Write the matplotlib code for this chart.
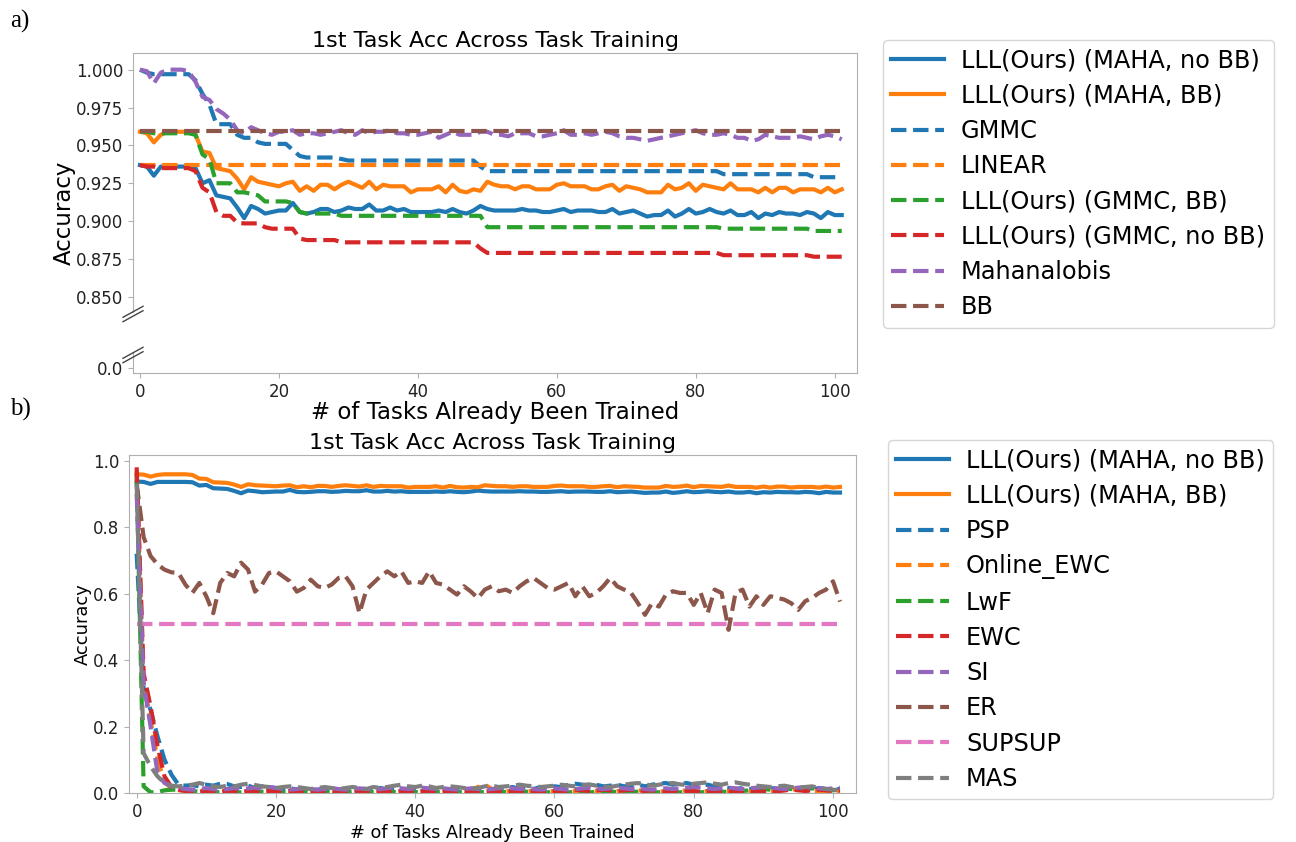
import numpy as np
import matplotlib
matplotlib.use("Agg")
import matplotlib.pyplot as plt
from matplotlib.lines import Line2D

# ---- data ----
tasks = np.arange(102)

# panel a)
maha_nobb = [0.937, 0.936, 0.930, 0.936, 0.936, 0.936, 0.936, 0.936, 0.935, 0.925,
             0.927, 0.917, 0.916, 0.915, 0.909, 0.902, 0.910, 0.908, 0.905, 0.906,
             0.907, 0.907, 0.912, 0.906, 0.905, 0.906, 0.908, 0.908, 0.906, 0.907,
             0.909, 0.908, 0.908, 0.911, 0.907, 0.907, 0.909, 0.907, 0.908, 0.906,
             0.906, 0.906, 0.906, 0.907, 0.906, 0.908, 0.906, 0.905, 0.907, 0.910,
             0.908, 0.907, 0.907, 0.907, 0.907, 0.908, 0.907, 0.907, 0.906, 0.906,
             0.907, 0.908, 0.906, 0.907, 0.907, 0.907, 0.906, 0.906, 0.908, 0.905,
             0.906, 0.907, 0.905, 0.903, 0.904, 0.904, 0.907, 0.903, 0.905, 0.908,
             0.905, 0.906, 0.908, 0.906, 0.905, 0.907, 0.904, 0.904, 0.906, 0.902,
             0.905, 0.904, 0.906, 0.905, 0.905, 0.904, 0.906, 0.905, 0.902, 0.906,
             0.904, 0.904]
maha_bb = [0.959, 0.958, 0.952, 0.957, 0.959, 0.959, 0.959, 0.959, 0.957, 0.946,
           0.945, 0.935, 0.934, 0.933, 0.928, 0.921, 0.929, 0.926, 0.925, 0.924,
           0.923, 0.925, 0.926, 0.920, 0.923, 0.920, 0.924, 0.924, 0.921, 0.924,
           0.926, 0.924, 0.922, 0.926, 0.921, 0.924, 0.923, 0.923, 0.923, 0.919,
           0.921, 0.921, 0.921, 0.923, 0.919, 0.924, 0.920, 0.919, 0.921, 0.920,
           0.926, 0.924, 0.923, 0.923, 0.921, 0.923, 0.923, 0.921, 0.921, 0.921,
           0.924, 0.925, 0.923, 0.923, 0.923, 0.921, 0.921, 0.923, 0.924, 0.920,
           0.923, 0.922, 0.921, 0.919, 0.919, 0.919, 0.924, 0.921, 0.922, 0.925,
           0.920, 0.924, 0.923, 0.922, 0.921, 0.925, 0.921, 0.921, 0.921, 0.919,
           0.922, 0.919, 0.922, 0.922, 0.919, 0.921, 0.921, 0.921, 0.919, 0.922,
           0.919, 0.921]
gmmc = [1.000, 0.998, 0.997, 0.997, 0.997, 0.997, 0.997, 0.997, 0.993, 0.984,
        0.977, 0.964, 0.964, 0.964, 0.957, 0.955, 0.955, 0.952, 0.951, 0.951,
        0.951, 0.951, 0.947, 0.943, 0.942, 0.942, 0.942, 0.942, 0.942, 0.941,
        0.940, 0.940, 0.940, 0.940, 0.940, 0.940, 0.940, 0.940, 0.940, 0.940,
        0.940, 0.940, 0.940, 0.940, 0.940, 0.940, 0.940, 0.940, 0.940, 0.936,
        0.933, 0.933, 0.933, 0.933, 0.933, 0.933, 0.933, 0.933, 0.933, 0.933,
        0.933, 0.933, 0.933, 0.933, 0.933, 0.933, 0.933, 0.933, 0.933, 0.933,
        0.933, 0.933, 0.933, 0.933, 0.933, 0.933, 0.933, 0.933, 0.933, 0.933,
        0.933, 0.933, 0.933, 0.933, 0.931, 0.931, 0.931, 0.931, 0.931, 0.931,
        0.931, 0.931, 0.931, 0.931, 0.931, 0.931, 0.931, 0.929, 0.929, 0.929,
        0.929, 0.929]
linear_acc = 0.937
bb_acc = 0.9595
gmmc_bb = [0.959, 0.959, 0.958, 0.958, 0.958, 0.958, 0.958, 0.958, 0.957, 0.944,
           0.941, 0.925, 0.925, 0.925, 0.919, 0.919, 0.918, 0.917, 0.913, 0.913,
           0.913, 0.913, 0.912, 0.906, 0.905, 0.905, 0.905, 0.905, 0.905, 0.9035,
           0.9035, 0.9035, 0.9035, 0.9035, 0.9035, 0.9035, 0.9035, 0.9035, 0.9035, 0.9035,
           0.9035, 0.9035, 0.9035, 0.9035, 0.9035, 0.9035, 0.9035, 0.9035, 0.9035, 0.9035,
           0.896, 0.896, 0.896, 0.896, 0.896, 0.896, 0.896, 0.896, 0.896, 0.896,
           0.896, 0.896, 0.896, 0.896, 0.896, 0.896, 0.896, 0.896, 0.896, 0.896,
           0.896, 0.896, 0.896, 0.896, 0.896, 0.896, 0.896, 0.896, 0.896, 0.896,
           0.896, 0.896, 0.896, 0.896, 0.895, 0.895, 0.895, 0.895, 0.895, 0.895,
           0.895, 0.895, 0.895, 0.895, 0.895, 0.895, 0.895, 0.8935, 0.8935, 0.8935,
           0.8935, 0.8935]
gmmc_nobb = [0.937, 0.936, 0.936, 0.935, 0.935, 0.935, 0.935, 0.935, 0.933, 0.922,
             0.919, 0.906, 0.9035, 0.9035, 0.899, 0.8985, 0.8985, 0.8985, 0.896, 0.895,
             0.895, 0.895, 0.895, 0.8885, 0.8875, 0.8875, 0.8875, 0.8875, 0.8875, 0.886,
             0.886, 0.886, 0.886, 0.886, 0.886, 0.886, 0.886, 0.886, 0.886, 0.886,
             0.886, 0.886, 0.886, 0.886, 0.886, 0.886, 0.886, 0.886, 0.886, 0.882,
             0.879, 0.879, 0.879, 0.879, 0.879, 0.879, 0.879, 0.879, 0.879, 0.879,
             0.879, 0.879, 0.879, 0.879, 0.879, 0.879, 0.879, 0.879, 0.879, 0.879,
             0.879, 0.879, 0.879, 0.879, 0.879, 0.879, 0.879, 0.879, 0.879, 0.879,
             0.879, 0.879, 0.879, 0.879, 0.8775, 0.8775, 0.8775, 0.8775, 0.8775, 0.8775,
             0.8775, 0.8775, 0.8775, 0.8775, 0.8775, 0.8775, 0.8775, 0.8765, 0.8765, 0.8765,
             0.8765, 0.8765]
mahalanobis = [1.000, 0.999, 0.991, 0.998, 1.000, 1.000, 1.000, 0.999, 0.992, 0.982,
               0.980, 0.974, 0.971, 0.967, 0.960, 0.958, 0.962, 0.960, 0.958, 0.957,
               0.959, 0.959, 0.960, 0.957, 0.958, 0.958, 0.957, 0.958, 0.959, 0.960,
               0.958, 0.957, 0.960, 0.958, 0.959, 0.959, 0.960, 0.958, 0.958, 0.957,
               0.957, 0.958, 0.959, 0.955, 0.957, 0.959, 0.957, 0.957, 0.957, 0.959,
               0.959, 0.957, 0.957, 0.956, 0.958, 0.958, 0.958, 0.956, 0.956, 0.957,
               0.958, 0.960, 0.957, 0.957, 0.958, 0.957, 0.958, 0.959, 0.958, 0.956,
               0.955, 0.955, 0.954, 0.953, 0.954, 0.955, 0.956, 0.957, 0.958, 0.959,
               0.960, 0.958, 0.957, 0.957, 0.958, 0.957, 0.955, 0.955, 0.953, 0.954,
               0.957, 0.956, 0.955, 0.955, 0.955, 0.956, 0.955, 0.954, 0.956, 0.957,
               0.956, 0.954]

# panel b)
psp = [0.72, 0.31, 0.25, 0.17, 0.10, 0.055, 0.025, 0.022, 0.024, 0.020,
       0.025, 0.022, 0.028, 0.027, 0.020, 0.018, 0.022, 0.015, 0.020, 0.018,
       0.015, 0.012, 0.015, 0.010, 0.012, 0.008, 0.010, 0.012, 0.015, 0.010,
       0.008, 0.012, 0.010, 0.008, 0.012, 0.015, 0.010, 0.012, 0.010, 0.008,
       0.012, 0.010, 0.012, 0.015, 0.010, 0.012, 0.008, 0.010, 0.012, 0.015,
       0.012, 0.010, 0.012, 0.015, 0.018, 0.012, 0.015, 0.012, 0.018, 0.015,
       0.020, 0.018, 0.025, 0.028, 0.025, 0.022, 0.025, 0.020, 0.022, 0.025,
       0.020, 0.022, 0.025, 0.020, 0.025, 0.028, 0.030, 0.025, 0.028, 0.030,
       0.025, 0.022, 0.025, 0.020, 0.018, 0.015, 0.012, 0.015, 0.012, 0.010,
       0.012, 0.015, 0.012, 0.010, 0.012, 0.015, 0.012, 0.010, 0.015, 0.012,
       0.010, 0.012]
online_ewc = [0.97, 0.33, 0.22, 0.10, 0.035, 0.012, 0.008, 0.006, 0.005, 0.008,
              0.006, 0.004, 0.006, 0.008, 0.005, 0.006, 0.004, 0.006, 0.005, 0.008,
              0.006, 0.005, 0.004, 0.006, 0.008, 0.005, 0.006, 0.004, 0.005, 0.006,
              0.008, 0.010, 0.012, 0.008, 0.006, 0.005, 0.006, 0.004, 0.005, 0.008,
              0.006, 0.005, 0.006, 0.004, 0.005, 0.006, 0.008, 0.006, 0.010, 0.018,
              0.025, 0.012, 0.006, 0.005, 0.006, 0.004, 0.005, 0.006, 0.008, 0.006,
              0.005, 0.004, 0.006, 0.005, 0.006, 0.008, 0.006, 0.005, 0.004, 0.006,
              0.005, 0.006, 0.008, 0.006, 0.005, 0.004, 0.006, 0.005, 0.006, 0.008,
              0.006, 0.005, 0.006, 0.004, 0.005, 0.006, 0.008, 0.006, 0.005, 0.004,
              0.006, 0.005, 0.006, 0.008, 0.010, 0.012, 0.008, 0.006, 0.005, 0.006,
              0.004, 0.005]
lwf = [0.96, 0.02, 0.002, 0.003, 0.008, 0.010, 0.010, 0.008, 0.006, 0.004,
       0.003, 0.002, 0.003, 0.004, 0.003, 0.002, 0.003, 0.002, 0.004, 0.003,
       0.002, 0.003, 0.004, 0.002, 0.003, 0.002, 0.003, 0.004, 0.002, 0.003,
       0.002, 0.004, 0.003, 0.002, 0.003, 0.004, 0.002, 0.003, 0.002, 0.004,
       0.003, 0.002, 0.003, 0.002, 0.004, 0.003, 0.002, 0.003, 0.004, 0.002,
       0.003, 0.002, 0.004, 0.003, 0.002, 0.003, 0.004, 0.002, 0.003, 0.002,
       0.003, 0.004, 0.002, 0.003, 0.004, 0.002, 0.003, 0.002, 0.004, 0.003,
       0.002, 0.003, 0.004, 0.002, 0.003, 0.002, 0.004, 0.003, 0.002, 0.003,
       0.004, 0.002, 0.003, 0.002, 0.004, 0.003, 0.005, 0.006, 0.008, 0.010,
       0.012, 0.010, 0.012, 0.014, 0.012, 0.010, 0.012, 0.014, 0.012, 0.010,
       0.008, 0.010]
ewc = [0.98, 0.36, 0.26, 0.14, 0.05, 0.018, 0.010, 0.006, 0.005, 0.004,
       0.006, 0.005, 0.004, 0.006, 0.005, 0.004, 0.006, 0.004, 0.005, 0.006,
       0.004, 0.005, 0.006, 0.004, 0.005, 0.006, 0.004, 0.005, 0.006, 0.004,
       0.005, 0.004, 0.006, 0.005, 0.004, 0.006, 0.005, 0.004, 0.006, 0.005,
       0.004, 0.006, 0.004, 0.005, 0.006, 0.004, 0.005, 0.006, 0.004, 0.005,
       0.004, 0.006, 0.005, 0.004, 0.006, 0.005, 0.004, 0.006, 0.005, 0.004,
       0.006, 0.005, 0.008, 0.010, 0.008, 0.006, 0.008, 0.010, 0.008, 0.006,
       0.008, 0.010, 0.008, 0.006, 0.008, 0.006, 0.005, 0.006, 0.008, 0.006,
       0.005, 0.004, 0.006, 0.005, 0.004, 0.006, 0.005, 0.004, 0.006, 0.005,
       0.004, 0.006, 0.005, 0.008, 0.010, 0.008, 0.006, 0.008, 0.010, 0.008,
       0.006, 0.008]
si = [0.90, 0.33, 0.20, 0.06, 0.03, 0.02, 0.015, 0.012, 0.010, 0.012,
      0.015, 0.012, 0.010, 0.012, 0.015, 0.012, 0.014, 0.016, 0.012, 0.018,
      0.015, 0.012, 0.010, 0.012, 0.014, 0.012, 0.010, 0.012, 0.014, 0.012,
      0.010, 0.012, 0.014, 0.012, 0.010, 0.012, 0.014, 0.016, 0.014, 0.012,
      0.014, 0.016, 0.014, 0.012, 0.014, 0.012, 0.010, 0.012, 0.014, 0.012,
      0.010, 0.012, 0.014, 0.016, 0.014, 0.012, 0.014, 0.012, 0.010, 0.012,
      0.014, 0.012, 0.010, 0.012, 0.014, 0.016, 0.014, 0.012, 0.014, 0.016,
      0.014, 0.012, 0.014, 0.012, 0.010, 0.012, 0.014, 0.012, 0.014, 0.016,
      0.018, 0.016, 0.014, 0.012, 0.014, 0.016, 0.014, 0.012, 0.014, 0.016,
      0.018, 0.016, 0.014, 0.012, 0.014, 0.016, 0.018, 0.016, 0.014, 0.012,
      0.014, 0.016]
er = [0.93, 0.77, 0.713, 0.688, 0.672, 0.664, 0.662, 0.627, 0.602, 0.632,
      0.592, 0.541, 0.632, 0.662, 0.652, 0.693, 0.672, 0.606, 0.627, 0.662,
      0.667, 0.652, 0.637, 0.606, 0.617, 0.642, 0.622, 0.617, 0.627, 0.647,
      0.652, 0.622, 0.541, 0.612, 0.632, 0.652, 0.667, 0.652, 0.667, 0.632,
      0.637, 0.632, 0.667, 0.632, 0.627, 0.612, 0.597, 0.622, 0.606, 0.586,
      0.612, 0.622, 0.607, 0.612, 0.602, 0.622, 0.637, 0.647, 0.632, 0.617,
      0.612, 0.622, 0.632, 0.592, 0.622, 0.592, 0.602, 0.622, 0.647, 0.622,
      0.612, 0.602, 0.571, 0.536, 0.571, 0.561, 0.597, 0.607, 0.602, 0.602,
      0.566, 0.602, 0.541, 0.612, 0.602, 0.491, 0.602, 0.612, 0.561, 0.592,
      0.566, 0.592, 0.587, 0.582, 0.571, 0.551, 0.577, 0.587, 0.602, 0.612,
      0.637, 0.576]
supsup_acc = 0.508
mas = [0.93, 0.12, 0.08, 0.05, 0.03, 0.022, 0.020, 0.022, 0.025, 0.030,
       0.025, 0.020, 0.018, 0.022, 0.020, 0.025, 0.028, 0.024, 0.020, 0.018,
       0.015, 0.018, 0.020, 0.018, 0.015, 0.012, 0.015, 0.018, 0.015, 0.012,
       0.015, 0.018, 0.015, 0.012, 0.018, 0.015, 0.018, 0.022, 0.025, 0.020,
       0.018, 0.022, 0.020, 0.015, 0.018, 0.020, 0.018, 0.015, 0.012, 0.015,
       0.020, 0.022, 0.018, 0.020, 0.022, 0.025, 0.022, 0.020, 0.018, 0.020,
       0.022, 0.025, 0.022, 0.020, 0.024, 0.026, 0.022, 0.020, 0.018, 0.022,
       0.025, 0.028, 0.030, 0.026, 0.022, 0.025, 0.028, 0.030, 0.026, 0.024,
       0.028, 0.030, 0.032, 0.028, 0.025, 0.030, 0.032, 0.028, 0.025, 0.022,
       0.020, 0.018, 0.020, 0.022, 0.018, 0.015, 0.018, 0.020, 0.015, 0.012,
       0.010, 0.008]

W, H = 1296, 842
SPINE = '#b0b0b0'
LW = 3

plt.rcParams['font.family'] = 'DejaVu Sans'
fig = plt.figure(figsize=(W / 100, H / 100), dpi=100)


def box(x0, y0, x1, y1):
    # pixel box (from top-left) -> figure fraction rect
    return [x0 / W, 1 - y1 / H, (x1 - x0) / W, (y1 - y0) / H]


def style(ax, size):
    for s in ax.spines.values():
        s.set_color(SPINE)
    ax.tick_params(colors=SPINE, labelcolor='#222222', labelsize=size)


legend_kw = dict(loc='upper left', fontsize=17.3, labelspacing=0.47,
                 handlelength=2.2, handletextpad=0.7, borderpad=0.35,
                 borderaxespad=0, frameon=True)

# ---------------- panel a) ----------------
top_series = [
    (maha_nobb, 'C0', '-', 'LLL(Ours) (MAHA, no BB)'),
    (maha_bb, 'C1', '-', 'LLL(Ours) (MAHA, BB)'),
    (gmmc, 'C0', '--', 'GMMC'),
    (np.full(len(tasks), linear_acc), 'C1', '--', 'LINEAR'),
    (gmmc_bb, 'C2', '--', 'LLL(Ours) (GMMC, BB)'),
    (gmmc_nobb, 'C3', '--', 'LLL(Ours) (GMMC, no BB)'),
    (mahalanobis, 'C4', '--', 'Mahanalobis'),
    (np.full(len(tasks), bb_acc), 'C5', '--', 'BB'),
]

frame = fig.add_axes(box(133, 53, 857, 373))
style(frame, 12)
frame.spines['left'].set_visible(False)
frame.set_xlim(-1.0, 103.2)
frame.set_xticks([0, 20, 40, 60, 80, 100])
frame.set_yticks([])
frame.set_title('1st Task Acc Across Task Training', fontsize=16, pad=4)
frame.set_xlabel('# of Tasks Already Been Trained', fontsize=16.5, labelpad=0)
frame.set_ylabel('Accuracy', fontsize=16.5, labelpad=41)

ax_hi = fig.add_axes(box(133, 53, 857, 312))
ax_lo = fig.add_axes(box(133, 352, 857, 373))
for ax in (ax_hi, ax_lo):
    ax.patch.set_alpha(0)
    for name in ('top', 'right', 'bottom'):
        ax.spines[name].set_visible(False)
    style(ax, 12)
    ax.set_xlim(-1.0, 103.2)
    ax.set_xticks([])
    handles = []
    for vals, col, ls, lab in top_series:
        h, = ax.plot(tasks, vals, color=col, linestyle=ls, linewidth=LW, label=lab)
        handles.append(h)
ax_hi.set_ylim(0.84, 1.011)
ax_hi.set_yticks([0.85, 0.875, 0.9, 0.925, 0.95, 0.975, 1.0])
ax_hi.set_yticklabels(['0.850', '0.875', '0.900', '0.925', '0.950', '0.975', '1.000'])
ax_lo.set_ylim(-0.01, 0.03)
ax_lo.set_yticks([0.0])
ax_lo.set_yticklabels(['0.0'])

fig.legend(handles=handles, bbox_to_anchor=(883 / W, 1 - 40 / H), **legend_kw)

# break marks on the left spine
for yc in (314, 355):
    for dy in (-2.2, 2.2):
        fig.add_artist(Line2D([123 / W, 143 / W],
                              [1 - (yc + dy + 5.5) / H, 1 - (yc + dy - 5.5) / H],
                              color='#444444', linewidth=1))

# ---------------- panel b) ----------------
bottom_series = [
    (maha_nobb, 'C0', '-', 'LLL(Ours) (MAHA, no BB)'),
    (maha_bb, 'C1', '-', 'LLL(Ours) (MAHA, BB)'),
    (psp, 'C0', '--', 'PSP'),
    (online_ewc, 'C1', '--', 'Online_EWC'),
    (lwf, 'C2', '--', 'LwF'),
    (ewc, 'C3', '--', 'EWC'),
    (si, 'C4', '--', 'SI'),
    (er, 'C5', '--', 'ER'),
    (np.full(len(tasks), supsup_acc), 'C6', '--', 'SUPSUP'),
    (mas, 'C7', '--', 'MAS'),
]

axb = fig.add_axes(box(129, 455, 856, 793))
style(axb, 12)
for vals, col, ls, lab in bottom_series:
    axb.plot(tasks, vals, color=col, linestyle=ls, linewidth=LW, label=lab)
axb.set_xlim(-1.1, 103.3)
axb.set_ylim(0, 1.017)
axb.set_xticks([0, 20, 40, 60, 80, 100])
axb.set_yticks([0.0, 0.2, 0.4, 0.6, 0.8, 1.0])
axb.set_title('1st Task Acc Across Task Training', fontsize=16, pad=4)
axb.set_xlabel('# of Tasks Already Been Trained', fontsize=12.7, labelpad=2)
axb.set_ylabel('Accuracy', fontsize=12.9, labelpad=1)
axb.legend(bbox_to_anchor=(888 / W, 1 - 440 / H), bbox_transform=fig.transFigure,
           **legend_kw)

# panel letters
fig.text(10 / W, 1 - 21 / H, 'a)', family='Liberation Serif', fontsize=18, va='center')
fig.text(10 / W, 1 - 409 / H, 'b)', family='Liberation Serif', fontsize=18, va='center')

fig.savefig('out.png', dpi=100)
